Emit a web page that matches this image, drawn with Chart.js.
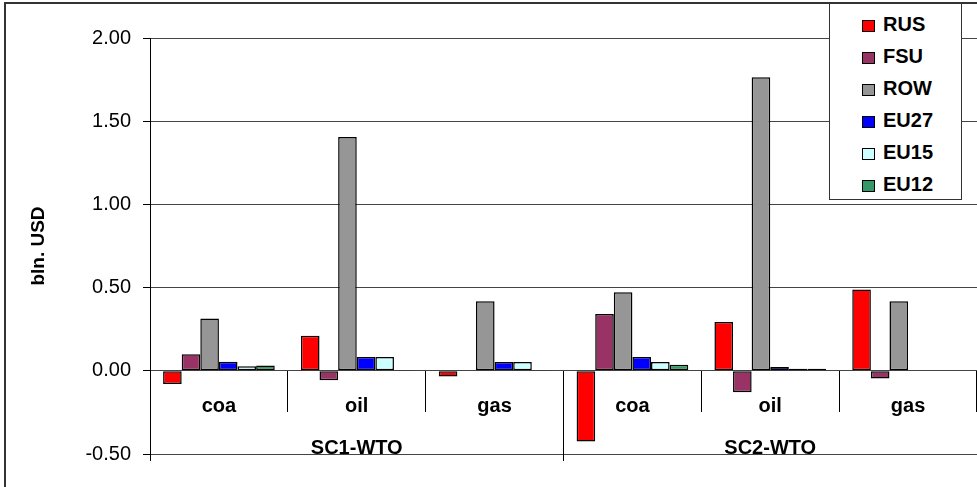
<!DOCTYPE html>
<html>
<head>
<meta charset="utf-8">
<script src="https://cdn.jsdelivr.net/npm/chart.js@4.4.1/dist/chart.umd.min.js"></script>
<style>
  html, body { margin: 0; padding: 0; background: #fff; overflow: hidden; }
  #wrap { position: relative; width: 977px; height: 487px; }
  #frame { position: absolute; left: 4px; top: 2px; width: 1100px; height: 600px;
           border: 2px solid #333; box-sizing: border-box; pointer-events: none; }
  #legend { position: absolute; left: 829px; top: 3px; width: 133px; height: 197px;
            box-sizing: border-box; border: 1px solid #333; background: #fff; padding-top: 4px;
            font: bold 20px "Liberation Sans", Arial, sans-serif; color: #000; }
  #legend div { height: 32px; line-height: 32px; padding-left: 32px; white-space: nowrap; }
  #legend span { display: inline-block; width: 13px; height: 12px; border: 1px solid #000;
                 box-sizing: border-box; margin-right: 8px; vertical-align: -1px; }
</style>
</head>
<body>
<div id="wrap">
  <canvas id="chart" width="977" height="487"></canvas>
  <div id="frame"></div>
  <div id="legend"></div>
</div>
<script>
// categories and scenario groups
var categories = ['coa', 'oil', 'gas', 'coa', 'oil', 'gas'];
var scenarios = ['SC1-WTO', 'SC2-WTO'];

// bln. USD per region
var rus  = [-0.08, 0.21, -0.035, -0.425, 0.293, 0.488];
var fsu  = [0.10, -0.057, 0, 0.342, -0.129, -0.047];
var row  = [0.315, 1.405, 0.418, 0.472, 1.764, 0.418];
var eu27 = [0.055, 0.083, 0.053, 0.083, 0.023, 0];
var eu15 = [0.028, 0.083, 0.053, 0.053, 0.013, 0];
var eu12 = [0.032, 0.005, 0.005, 0.037, 0.013, 0];

var yTicks = [-0.5, 0, 0.5, 1.0, 1.5, 2.0];

var FONT = '"Liberation Sans", Arial, sans-serif';

function ds(label, data, color) {
  return {
    label: label,
    data: data,
    backgroundColor: color,
    borderColor: '#000',
    borderWidth: 1.5,
    borderSkipped: false,
    categoryPercentage: 0.81,
    barPercentage: 1.0
  };
}

var ctx = document.getElementById('chart').getContext('2d');
var chart = new Chart(ctx, {
  type: 'bar',
  data: {
    labels: categories,
    datasets: [
      ds('RUS', rus, '#ff0000'),
      ds('FSU', fsu, '#993366'),
      ds('ROW', row, '#969696'),
      ds('EU27', eu27, '#0000ff'),
      ds('EU15', eu15, '#ccffff'),
      ds('EU12', eu12, '#339966')
    ]
  },
  options: {
    responsive: false,
    animation: false,
    layout: { padding: { left: 0, top: 38, right: 0, bottom: 33 } },
    plugins: {
      legend: { display: false },
      tooltip: { enabled: false }
    },
    scales: {
      y: {
        min: yTicks[0],
        max: yTicks[yTicks.length - 1],
        afterFit: function(scale) { scale.width = 150; },
        afterBuildTicks: function(scale) {
          scale.ticks = yTicks.map(function(v) { return { value: v }; });
        },
        border: { display: true, color: '#000', width: 1 },
        grid: { color: '#444', lineWidth: 1, tickLength: 7, tickColor: '#000' },
        ticks: {
          padding: 12,
          color: '#000',
          font: { family: FONT, size: 20 },
          callback: function(v) { return Number(v).toFixed(2); }
        },
        title: {
          display: true,
          text: 'bln. USD',
          color: '#000',
          padding: { top: 27, bottom: 0 },
          font: { family: FONT, size: 19, weight: 'bold' }
        }
      },
      x: {
        axis: 'x',
        position: { y: 0 },
        offset: true,
        border: { display: false },
        grid: { offset: true, drawOnChartArea: false, tickLength: 41, tickColor: '#000', lineWidth: 1 },
        ticks: {
          padding: -17,
          maxRotation: 0,
          color: '#000',
          font: { family: FONT, size: 20, weight: 'bold' }
        }
      },
      x2: {
        axis: 'x',
        type: 'category',
        labels: scenarios,
        position: { y: 0 },
        offset: true,
        border: { display: false },
        grid: { offset: true, drawOnChartArea: false, tickLength: 90, tickColor: '#000', lineWidth: 1 },
        ticks: {
          padding: -24,
          maxRotation: 0,
          color: '#000',
          font: { family: FONT, size: 20, weight: 'bold' }
        }
      }
    }
  }
});

// legend box from the chart's own datasets
var legend = document.getElementById('legend');
chart.data.datasets.forEach(function(d) {
  var item = document.createElement('div');
  var sw = document.createElement('span');
  sw.style.background = d.backgroundColor;
  item.appendChild(sw);
  item.appendChild(document.createTextNode(d.label));
  legend.appendChild(item);
});
</script>
</body>
</html>
